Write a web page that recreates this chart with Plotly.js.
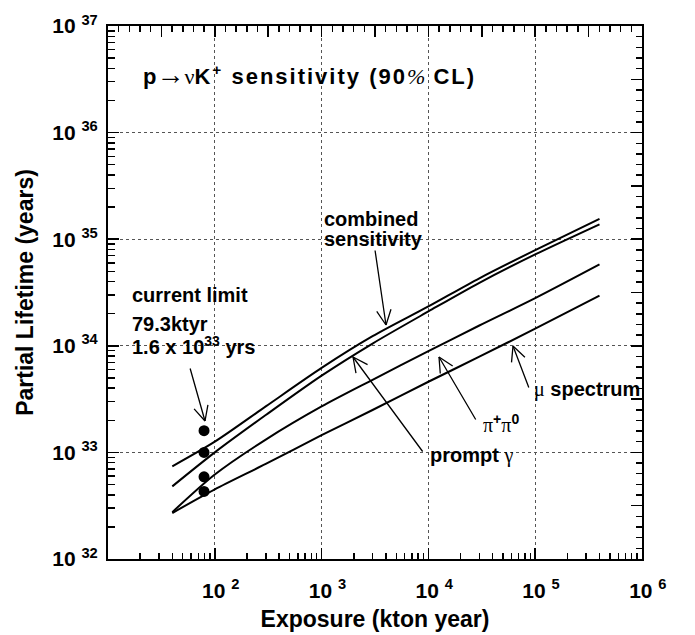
<!DOCTYPE html>
<html>
<head>
<meta charset="utf-8">
<script src="https://cdn.plot.ly/plotly-3.0.1.min.js"></script>
<style>html,body{margin:0;padding:0;background:#fff;}</style>
</head>
<body>
<div id="chart" style="width:695px;height:635px;"></div>
<script>
// ---- data ----
const exposure      = [40, 100, 300, 1000, 3000, 10000, 30000, 100000, 400000];
const combined      = [7.4e32, 1.26e33, 2.7e33, 6.2e33, 1.23e34, 2.34e34, 4.3e34, 7.9e34, 1.55e35];
const promptGamma   = [4.8e32, 1.0e33, 2.24e33, 5.25e33, 1.05e34, 2.1e34, 3.9e34, 7.2e34, 1.38e35];
const piPlusPiZero  = [2.75e32, 6.2e32, 1.32e33, 2.7e33, 4.8e33, 8.9e33, 1.55e34, 2.8e34, 5.8e34];
const muSpectrum    = [2.7e32, 4.5e32, 7.8e32, 1.45e33, 2.5e33, 4.6e33, 7.9e33, 1.45e34, 2.95e34];
const limitExposure = [79.3, 79.3, 79.3, 79.3];
const limitLifetime = [1.6e33, 1.0e33, 5.9e32, 4.3e32];
const xTickVals = [1e2, 1e3, 1e4, 1e5, 1e6];
const xTickExp  = ['2', '3', '4', '5', '6'];
const yTickVals = [1e32, 1e33, 1e34, 1e35, 1e36, 1e37];
const yTickExp  = ['32', '33', '34', '35', '36', '37'];

// ---- style ----
const SANS = 'Liberation Sans, Arial, Helvetica, sans-serif';
const SERIF = 'Liberation Serif, Times New Roman, serif';
const NB = '\u00a0';
const xTickText = xTickExp.map(e => NB + NB + '10' + NB + '<sup>' + e + '</sup>');
const yTickText = yTickExp.map(e => '10' + NB + '<sup>' + e + '</sup>');

// minor-tick positions for the log axes (2..9 in every decade)
const logMinor = (d0, d1) => {
  const out = [];
  for (let d = d0; d < d1; d++) for (let k = 2; k <= 9; k++) out.push(k * Math.pow(10, d));
  return out;
};

const lineStyle = {color: '#000', width: 2, shape: 'spline', smoothing: 0.8};
const curve = (y, name) => ({
  x: exposure, y: y, name: name, type: 'scatter', mode: 'lines',
  line: lineStyle, hoverinfo: 'skip', xaxis: 'x', yaxis: 'y'
});
const emptyOn = (xa, ya) => ({x: [], y: [], type: 'scatter', mode: 'lines', xaxis: xa, yaxis: ya, hoverinfo: 'skip'});

const traces = [
  curve(combined, 'combined sensitivity'),
  curve(promptGamma, 'prompt gamma'),
  curve(piPlusPiZero, 'pi+ pi0'),
  curve(muSpectrum, 'mu spectrum'),
  {x: limitExposure, y: limitLifetime, type: 'scatter', mode: 'markers',
   marker: {color: '#000', size: 11}, hoverinfo: 'skip', xaxis: 'x', yaxis: 'y'},
  emptyOn('x2', 'y'), emptyOn('x3', 'y'), emptyOn('x4', 'y'),
  emptyOn('x', 'y2'), emptyOn('x', 'y3'), emptyOn('x', 'y4')
];

// plot-area pixel frame used to place the labels
const PL = 108, PR = 642, PT = 26, PB = 559;
const px = v => (v - PL) / (PR - PL);
const py = v => (PB - v) / (PB - PT);

const serif = t => `<span style="font-family:${SERIF};font-weight:normal">${t}</span>`;
const spaced = t => `<span style="letter-spacing:2px">${t}</span>`;

const txt = (x, y, text, size) => ({
  xref: 'paper', yref: 'paper', x: px(x), y: py(y), text: text,
  showarrow: false, xanchor: 'left', yanchor: 'middle',
  font: {family: SANS, size: size, color: '#000', weight: 'bold'}
});

// thin arrow with an open "V" head: shaft + two barbs
const seg = (hx, hy, ex, ey) => ({
  xref: 'paper', yref: 'paper', x: px(hx), y: py(hy),
  ax: ex - hx, ay: ey - hy, axref: 'pixel', ayref: 'pixel',
  text: '', showarrow: true, arrowhead: 0, arrowwidth: 1.3,
  arrowcolor: '#000', standoff: 0, startstandoff: 0, borderpad: 0
});
const arrow = (hx, hy, tx, ty) => {
  const dx = tx - hx, dy = ty - hy, L = Math.hypot(dx, dy);
  const ux = dx / L, uy = dy / L, a = 26 * Math.PI / 180, len = 17;
  const rot = s => [hx + len * (ux * Math.cos(s * a) - uy * Math.sin(s * a)),
                    hy + len * (ux * Math.sin(s * a) + uy * Math.cos(s * a))];
  const b1 = rot(1), b2 = rot(-1);
  return [seg(hx, hy, tx, ty), seg(hx, hy, b1[0], b1[1]), seg(hx, hy, b2[0], b2[1])];
};

const annotations = [
  txt(141, 74, 'p' + serif('<span style="font-size:28px">→</span>ν') +
      spaced('K<sup>+</sup> sensitivity (90') + serif('<i>%</i>') + spaced(' CL)'), 22),
  txt(322, 219, 'combined', 20),
  txt(322, 239, 'sensitivity', 20),
  txt(130, 295, 'current limit', 20),
  txt(130, 324, '79.3ktyr', 20),
  txt(130, 345, '1.6 x 10<sup>33</sup> yrs', 20),
  txt(428, 455, 'prompt ' + serif('γ'), 20),
  txt(481, 423, serif('π') + '<sup>+</sup>' + serif('π') + '<sup>0</sup>', 20),
  txt(532, 390, serif('μ') + ' spectrum', 20)
].concat(
  arrow(386, 325, 375, 250),
  arrow(205, 421, 190, 368),
  arrow(353, 357, 423, 452),
  arrow(439, 357, 476, 420),
  arrow(513, 346, 529, 388)
);

const TC = '#000';
const TW = 1.5;
const tickFont = {family: SANS, size: 21, color: '#000', weight: 'bold'};
const titleFont = {family: SANS, size: 23, color: '#000', weight: 'bold'};
const mainAxis = {
  showgrid: true, gridcolor: '#555', gridwidth: 1, griddash: 'dot',
  showline: true, linecolor: '#000', linewidth: 2, mirror: true,
  ticks: 'inside', ticklen: 11, tickwidth: TW, tickcolor: TC,
  zeroline: false, tickfont: tickFont
};
const tickOnly = (extra) => Object.assign({
  showticklabels: false, showgrid: false, zeroline: false, showline: false,
  ticks: 'inside', tickwidth: TW, tickcolor: TC
}, extra);

const layout = {
  width: 695, height: 635,
  margin: {l: PL, r: 695 - PR, t: PT, b: 635 - PB, pad: 0},
  paper_bgcolor: '#fff', plot_bgcolor: '#fff',
  showlegend: false,
  xaxis: Object.assign({}, mainAxis, {
    type: 'log', range: [1, 6],
    tickmode: 'array', tickvals: xTickVals, ticktext: xTickText,
    ticklabelstandoff: 12,
    title: {text: 'Exposure (kton year)', standoff: 10, font: titleFont}
  }),
  yaxis: Object.assign({}, mainAxis, {
    type: 'log', range: [32, 37],
    tickmode: 'array', tickvals: yTickVals, ticktext: yTickText,
    ticklabelstandoff: 4,
    title: {text: 'Partial Lifetime (years)', standoff: 12, font: titleFont}
  }),
  // bottom / left secondary log ticks
  xaxis3: tickOnly({overlaying: 'x', side: 'bottom', anchor: 'y', type: 'log', range: [1, 6],
                    tickmode: 'array', tickvals: logMinor(1, 6), ticklen: 6}),
  yaxis3: tickOnly({overlaying: 'y', side: 'left', anchor: 'x', type: 'log', range: [32, 37],
                    tickmode: 'array', tickvals: logMinor(32, 37), ticklen: 7}),
  // top / right evenly divided ticks
  xaxis2: tickOnly({overlaying: 'x', side: 'top', anchor: 'y', type: 'linear', range: [1, 6],
                    tickmode: 'linear', tick0: 0, dtick: 0.1, ticklen: 6}),
  xaxis4: tickOnly({overlaying: 'x', side: 'top', anchor: 'y', type: 'linear', range: [1, 6],
                    tickmode: 'linear', tick0: 0, dtick: 0.5, ticklen: 11}),
  yaxis2: tickOnly({overlaying: 'y', side: 'right', anchor: 'x', type: 'linear', range: [32, 37],
                    tickmode: 'linear', tick0: 0, dtick: 0.1, ticklen: 6}),
  yaxis4: tickOnly({overlaying: 'y', side: 'right', anchor: 'x', type: 'linear', range: [32, 37],
                    tickmode: 'linear', tick0: 0, dtick: 0.5, ticklen: 11}),
  annotations: annotations
};

Plotly.newPlot('chart', traces, layout, {staticPlot: true, displayModeBar: false});
</script>
</body>
</html>
